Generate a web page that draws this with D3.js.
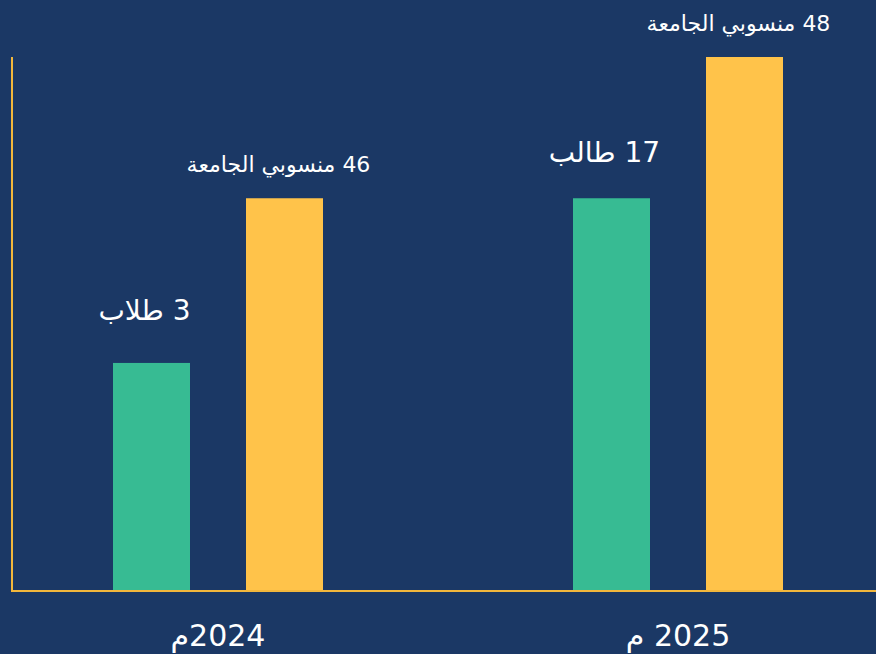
<!DOCTYPE html>
<html><head><meta charset="utf-8">
<script src="https://cdn.jsdelivr.net/npm/d3@7/dist/d3.min.js"></script>
<style>html,body{margin:0;padding:0;background:#1b3865;overflow:hidden}</style>
</head><body><svg id="c" width="876" height="654"></svg>
<script>
const years = ["2024", "2025"];
const yearLabels = ["2024م", "2025 م"];
const series = ["students", "staff"];
const seriesColors = ["#37bb93", "#ffc34a"];
// bar heights as drawn (relative units)
const studentsBar = [42.6, 73.5];
const staffBar = [73.5, 100];
const studentsLabels = ["3 طلاب", "17 طالب"];
const staffLabels = ["46 منسوبي الجامعة", "48 منسوبي الجامعة"];

const svg = d3.select("#c");
const W = 876, H = 654;
svg.append("rect").attr("width", W).attr("height", H).attr("fill", "#1b3865");

const x = d3.scalePoint().domain(years).range([218, 678]);
const xi = d3.scaleBand().domain(series).range([-105, 105]).paddingInner(0.421).paddingOuter(0);
const y = d3.scaleLinear().domain([0, 100]).range([590, 57]);

const data = [];
years.forEach((yr, i) => {
  data.push({yr, s: "students", v: studentsBar[i], label: studentsLabels[i], c: seriesColors[0]});
  data.push({yr, s: "staff", v: staffBar[i], label: staffLabels[i], c: seriesColors[1]});
});

svg.selectAll("rect.bar").data(data).enter().append("rect")
  .attr("class", "bar")
  .attr("x", d => x(d.yr) + xi(d.s))
  .attr("y", d => y(d.v))
  .attr("width", xi.bandwidth())
  .attr("height", d => y(0) - y(d.v))
  .attr("fill", d => d.c);

// axes lines
svg.append("line").attr("x1", 12).attr("x2", 12).attr("y1", y(100)).attr("y2", y(0) + 1)
  .attr("stroke", "#f2b73c").attr("stroke-width", 2);
svg.append("line").attr("x1", 11).attr("x2", W).attr("y1", y(0) + 1).attr("y2", y(0) + 1)
  .attr("stroke", "#f2b73c").attr("stroke-width", 2);

// value labels
svg.selectAll("text.val").data(data).enter().append("text")
  .attr("class", "val")
  .attr("x", d => x(d.yr) + xi(d.s) + xi.bandwidth() / 2 + (d.s === "students" ? -7 : -6))
  .attr("y", d => y(d.v) - (d.s === "students" ? (d.yr === "2024" ? 43 : 36) : 26))
  .attr("text-anchor", "middle")
  .attr("direction", "rtl")
  .attr("fill", "#ffffff")
  .attr("font-family", "'DejaVu Sans', sans-serif")
  .attr("font-size", d => d.s === "students" ? 28 : 22)
  .text(d => d.label);

// year labels
svg.selectAll("text.yr").data(years).enter().append("text")
  .attr("class", "yr")
  .attr("x", (d) => x(d))
  .attr("y", 646)
  .attr("text-anchor", "middle")
  .attr("direction", "rtl")
  .attr("fill", "#ffffff")
  .attr("font-family", "'DejaVu Sans', sans-serif")
  .attr("font-size", 30)
  .text((d, i) => yearLabels[i]);
</script></body></html>
